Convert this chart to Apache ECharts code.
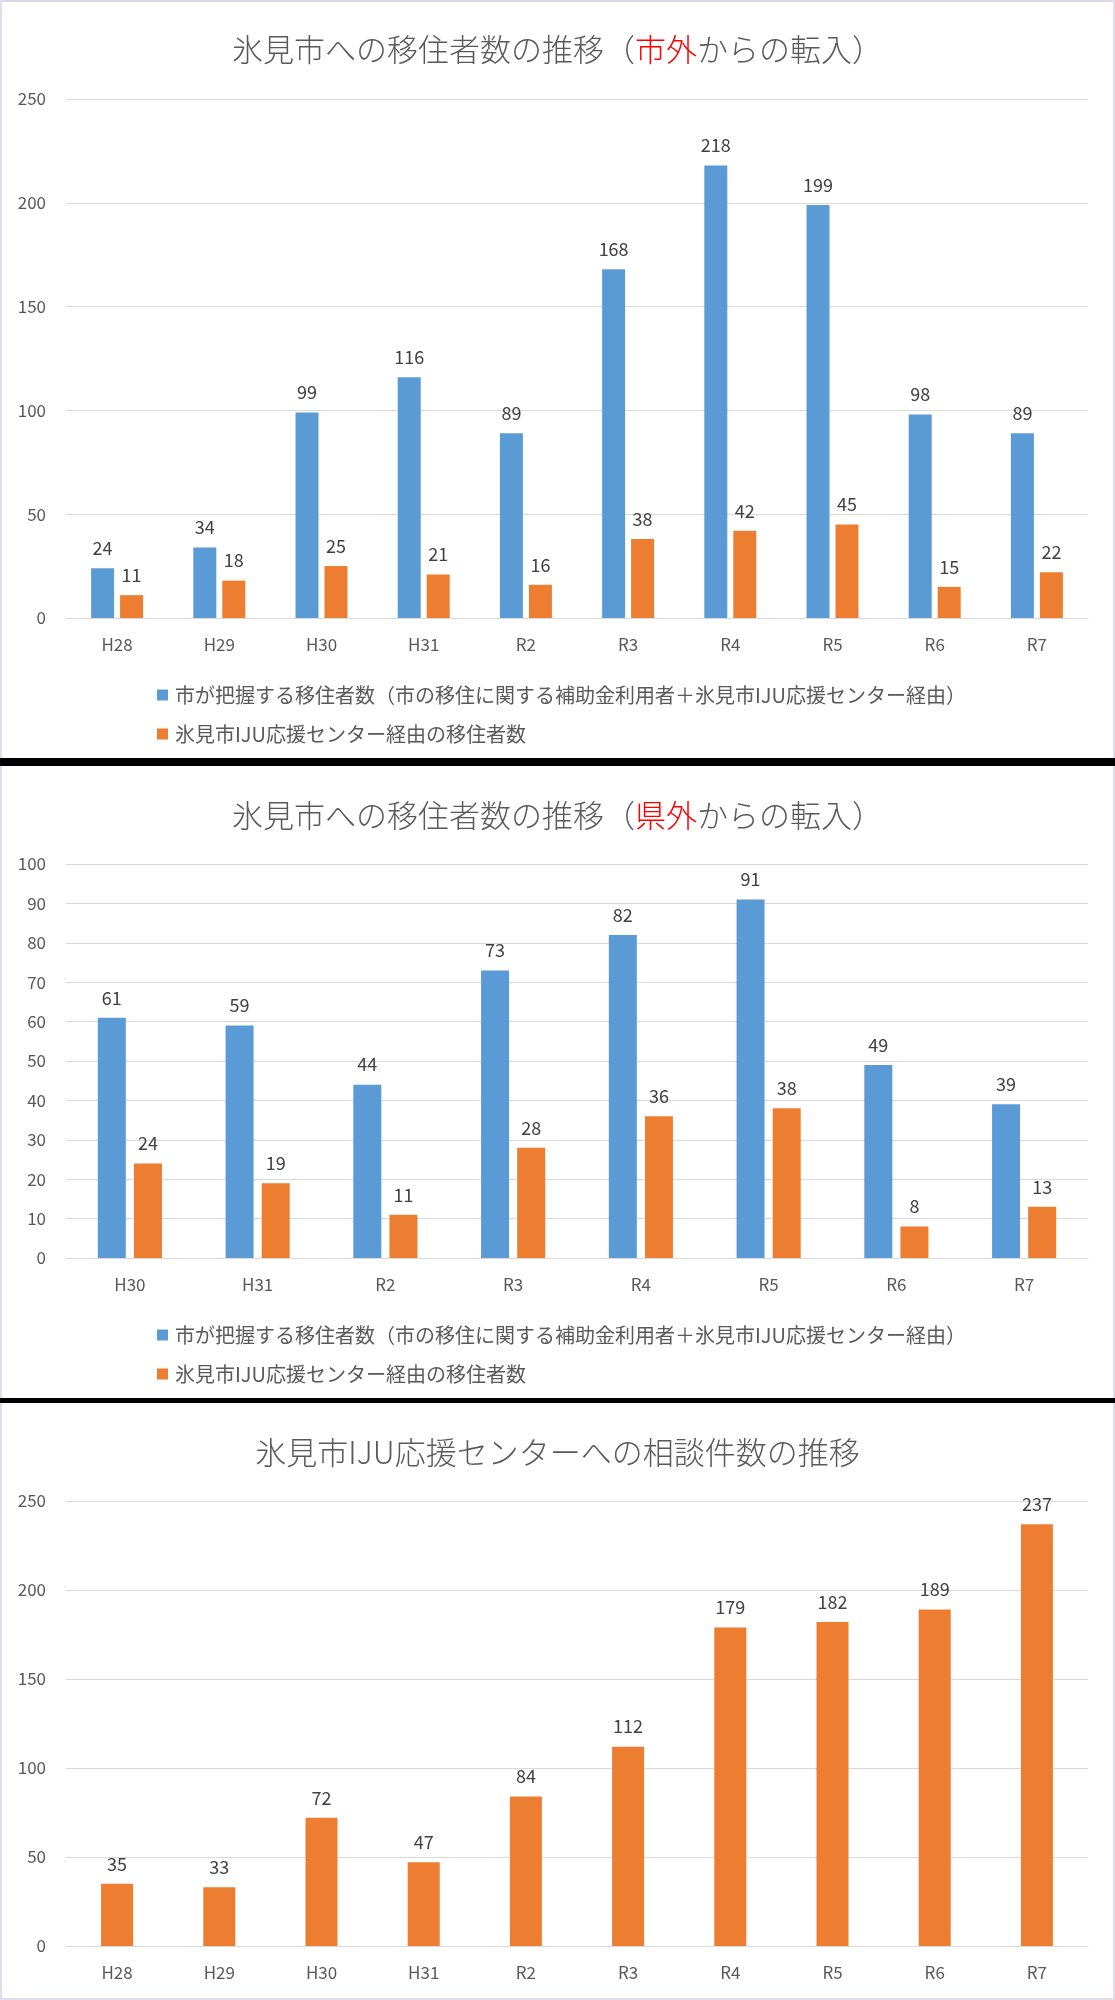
<!DOCTYPE html>
<html>
<head>
<meta charset="utf-8">
<script src="https://cdn.jsdelivr.net/npm/echarts@6/dist/echarts.min.js"></script>
<style>
html,body{margin:0;padding:0;background:#fff;}
#c{width:1115px;height:2000px;}
</style>
</head>
<body>
<div id="c"></div>
<script>
// ---- data ----
const cats1 = ['H28','H29','H30','H31','R2','R3','R4','R5','R6','R7'];
const city1 = [24, 34, 99, 116, 89, 168, 218, 199, 98, 89];
const iju1  = [11, 18, 25, 21, 16, 38, 42, 45, 15, 22];

const cats2 = ['H30','H31','R2','R3','R4','R5','R6','R7'];
const city2 = [61, 59, 44, 73, 82, 91, 49, 39];
const iju2  = [24, 19, 11, 28, 36, 38, 8, 13];

const cats3 = ['H28','H29','H30','H31','R2','R3','R4','R5','R6','R7'];
const consult3 = [35, 33, 72, 47, 84, 112, 179, 182, 189, 237];

const nameCity = '市が把握する移住者数（市の移住に関する補助金利用者＋氷見市IJU応援センター経由）';
const nameIju  = '氷見市IJU応援センター経由の移住者数';

// ---- styles ----
const FONT = '"Noto Sans CJK JP", "Noto Sans", sans-serif';
const BLUE = '#5b9bd5';
const ORANGE = '#ed7d31';
const GRID_C = '#d9d9d9';

function xAx(gi, cats){
  return {
    type:'category', gridIndex:gi, data:cats,
    axisTick:{show:false},
    axisLine:{show:true, lineStyle:{color:GRID_C, width:1}},
    axisLabel:{color:'#595959', fontSize:17, fontFamily:FONT, margin:18}
  };
}
function yAx(gi, max, interval){
  return {
    type:'value', gridIndex:gi, min:0, max:max, interval:interval,
    axisLine:{show:false}, axisTick:{show:false},
    splitLine:{lineStyle:{color:GRID_C, width:1}},
    axisLabel:{color:'#595959', fontSize:17, fontFamily:FONT, margin:20}
  };
}
const lbl = {show:true, position:'top', distance:11, color:'#404040', fontSize:18, fontFamily:FONT};
function bar(name, data, gi, color, w, gap){
  const s = {name:name, type:'bar', xAxisIndex:gi, yAxisIndex:gi, data:data,
    barWidth:w, itemStyle:{color:color}, label:lbl};
  if (gap) s.barGap = gap;
  return s;
}
function title(top, text){
  return {
    left:'center', top:top, text:text,
    textStyle:{
      fontSize:31, fontWeight:300, fontFamily:FONT, color:'#595959', lineHeight:36,
      rich:{
        a:{fontSize:31, fontWeight:300, color:'#595959', fontFamily:FONT, lineHeight:36},
        r:{fontSize:31, fontWeight:300, color:'#ff0000', fontFamily:FONT, lineHeight:36}
      }
    }
  };
}
function legend(top){
  return {
    orient:'vertical', left:152, top:top, itemGap:19,
    icon:'rect', itemWidth:11, itemHeight:11,
    data:[nameCity, nameIju],
    textStyle:{fontSize:20, color:'#595959', fontFamily:FONT, lineHeight:20, padding:[0,0,0,2]}
  };
}

const chart = echarts.init(document.getElementById('c'), null, {renderer:'canvas'});
chart.setOption({
  backgroundColor:'#ffffff',
  animation:false,
  title:[
    title(26, '{a|氷見市への移住者数の推移（}{r|市外}{a|からの転入）}'),
    title(792, '{a|氷見市への移住者数の推移（}{r|県外}{a|からの転入）}'),
    title(1429, '{a|氷見市IJU応援センターへの相談件数の推移}')
  ],
  legend:[legend(680), legend(1320)],
  grid:[
    {left:66, width:1022, top:99, height:519},
    {left:66, width:1022, top:864, height:394},
    {left:66, width:1022, top:1501, height:445}
  ],
  xAxis:[xAx(0,cats1), xAx(1,cats2), xAx(2,cats3)],
  yAxis:[yAx(0,250,50), yAx(1,100,10), yAx(2,250,50)],
  series:[
    bar(nameCity, city1, 0, BLUE, 23, '26%'),
    bar(nameIju, iju1, 0, ORANGE, 23, '26%'),
    bar(nameCity, city2, 1, BLUE, 28, '29%'),
    bar(nameIju, iju2, 1, ORANGE, 28, '29%'),
    bar('相談件数', consult3, 2, ORANGE, 32)
  ],
  graphic:[
    {type:'rect', shape:{x:0, y:0, width:1115, height:2}, style:{fill:'#dcd8ea'}, silent:true},
    {type:'rect', shape:{x:0, y:0, width:2, height:2000}, style:{fill:'#e2dcee'}, silent:true},
    {type:'rect', shape:{x:1113, y:0, width:2, height:2000}, style:{fill:'#e2dcee'}, silent:true},
    {type:'rect', shape:{x:0, y:1998, width:1115, height:2}, style:{fill:'#e2dcee'}, silent:true},
    {type:'rect', shape:{x:0, y:758, width:1115, height:8}, style:{fill:'#000000'}, silent:true},
    {type:'rect', shape:{x:0, y:1398, width:1115, height:5}, style:{fill:'#000000'}, silent:true}
  ]
});
</script>
</body>
</html>
